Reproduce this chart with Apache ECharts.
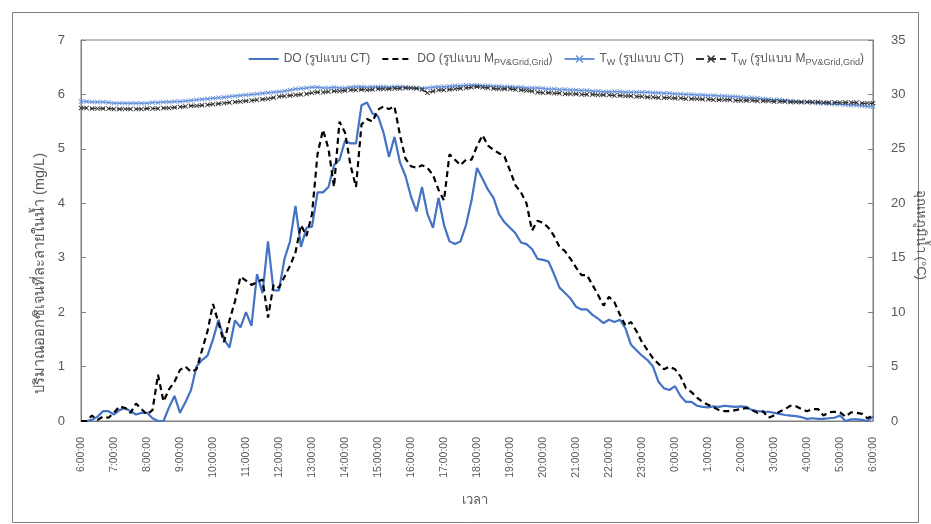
<!DOCTYPE html>
<html>
<head>
<meta charset="utf-8">
<script src="https://cdn.jsdelivr.net/npm/echarts@6/dist/echarts.min.js"></script>
<style>
html,body{margin:0;padding:0;background:#fff;}
#c{width:931px;height:524px;}
</style>
</head>
<body>
<div id="c"></div>
<script>
// time categories every 10 minutes, 6:00:00 -> 6:00:00 next day
const hours = [6,7,8,9,10,11,12,13,14,15,16,17,18,19,20,21,22,23,0,1,2,3,4,5];
const minutes = ['00','10','20','30','40','50'];
const categories = [];
hours.forEach(h => minutes.forEach(m => categories.push(h + ':' + m + ':00')));
categories.push('6:00:00');

const seriesNames = ['DO (รูปแบบ CT)', 'DO (รูปแบบ MPV&Grid,Grid)', 'TW (รูปแบบ CT)', 'TW (รูปแบบ MPV&Grid,Grid)'];

const doCT = [
0,0,0.02,0.08,0.18,0.18,0.12,0.2,0.24,0.18,0.12,0.15,0.15,
0.05,0,0,0.25,0.46,0.15,0.35,0.57,1.0,1.12,1.2,1.5,
1.86,1.5,1.35,1.85,1.72,2.0,1.75,2.7,2.35,3.3,2.4,2.4,
2.98,3.3,3.95,3.2,3.55,3.57,4.2,4.2,4.3,4.7,4.8,5.15,
5.1,5.1,5.8,5.85,5.65,5.6,5.3,4.85,5.22,4.75,4.5,4.12,
3.85,4.3,3.8,3.55,4.1,3.6,3.3,3.25,3.3,3.6,4.05,4.65,
4.45,4.25,4.1,3.8,3.65,3.55,3.45,3.28,3.25,3.16,2.98,2.96,
2.93,2.7,2.45,2.35,2.25,2.1,2.05,2.05,1.95,1.88,1.8,1.86,
1.82,1.86,1.7,1.4,1.3,1.2,1.12,1.0,0.72,0.6,0.57,0.64,
0.46,0.35,0.35,0.28,0.26,0.25,0.27,0.26,0.28,0.27,0.26,0.27,
0.26,0.2,0.18,0.17,0.17,0.15,0.13,0.11,0.1,0.09,0.07,0.04,
0.05,0.04,0.04,0.05,0.06,0.1,0,0.03,0.03,0.02,0,0.08
];

const doMpv = [
0,0,0.1,0.02,0.08,0.06,0.15,0.27,0.24,0.15,0.32,0.22,0.12,
0.2,0.85,0.36,0.58,0.72,0.94,1.0,0.9,0.95,1.3,1.65,2.15,
1.8,1.45,1.85,2.2,2.65,2.58,2.5,2.55,2.6,1.9,2.5,2.45,
2.65,2.85,3.1,3.6,3.4,3.8,4.9,5.35,5.0,4.3,5.5,5.3,
4.7,4.3,5.45,5.55,5.5,5.72,5.78,5.73,5.78,5.25,4.82,4.68,
4.65,4.7,4.65,4.52,4.25,4.05,4.9,4.8,4.7,4.8,4.8,5.05,
5.25,5.06,4.98,4.92,4.86,4.6,4.33,4.2,4.0,3.5,3.68,3.64,
3.55,3.4,3.2,3.12,2.98,2.82,2.68,2.68,2.5,2.32,2.12,2.28,
2.18,1.95,1.75,1.82,1.65,1.45,1.3,1.15,1.05,0.95,1.0,0.95,
0.82,0.6,0.53,0.43,0.35,0.3,0.25,0.2,0.18,0.18,0.2,0.22,
0.24,0.2,0.15,0.18,0.06,0.1,0.17,0.22,0.28,0.27,0.22,0.18,
0.22,0.22,0.1,0.16,0.17,0.16,0.08,0.16,0.15,0.13,0.05,0.1
];

const twCT = [
29.35,29.35,29.3,29.3,29.3,29.25,29.2,29.2,29.2,29.2,29.2,29.2,29.2,
29.25,29.25,29.3,29.3,29.35,29.35,29.4,29.45,29.5,29.55,29.6,29.65,
29.7,29.75,29.8,29.85,29.9,29.95,30.0,30.05,30.1,30.15,30.2,30.25,
30.3,30.4,30.5,30.55,30.6,30.65,30.65,30.6,30.6,30.65,30.6,30.6,
30.65,30.7,30.7,30.65,30.7,30.7,30.7,30.65,30.7,30.7,30.65,30.6,
30.6,30.55,30.6,30.65,30.7,30.7,30.75,30.8,30.8,30.85,30.85,30.85,
30.8,30.8,30.75,30.75,30.7,30.7,30.65,30.65,30.6,30.6,30.6,30.55,
30.5,30.5,30.45,30.45,30.4,30.4,30.35,30.35,30.3,30.3,30.25,30.25,
30.25,30.25,30.2,30.2,30.2,30.2,30.2,30.15,30.15,30.1,30.1,30.05,
30.05,30.0,30.0,29.95,29.95,29.9,29.9,29.85,29.85,29.8,29.8,29.75,
29.7,29.7,29.65,29.6,29.55,29.5,29.5,29.45,29.4,29.35,29.3,29.3,
29.25,29.2,29.2,29.15,29.1,29.1,29.05,29.0,29.0,28.95,28.9,28.9
];

const twMpv = [
28.75,28.75,28.7,28.7,28.7,28.7,28.65,28.65,28.65,28.65,28.65,28.65,28.7,
28.7,28.7,28.75,28.75,28.8,28.85,28.9,28.95,28.95,29.0,29.05,29.1,
29.15,29.2,29.25,29.3,29.35,29.4,29.45,29.5,29.55,29.6,29.7,29.8,
29.85,29.9,29.95,30.0,30.05,30.15,30.2,30.2,30.25,30.3,30.3,30.35,
30.4,30.4,30.45,30.4,30.45,30.5,30.5,30.5,30.55,30.55,30.6,30.6,
30.55,30.45,30.15,30.3,30.4,30.4,30.45,30.5,30.55,30.6,30.65,30.7,
30.65,30.6,30.55,30.5,30.5,30.5,30.45,30.4,30.35,30.3,30.2,30.15,
30.15,30.1,30.1,30.05,30.05,30.05,30.0,30.0,30.0,29.95,29.95,29.95,
29.9,29.9,29.85,29.85,29.8,29.8,29.75,29.75,29.7,29.7,29.7,29.65,
29.65,29.6,29.6,29.6,29.55,29.55,29.5,29.5,29.5,29.5,29.45,29.45,
29.45,29.45,29.4,29.4,29.4,29.35,29.35,29.35,29.3,29.3,29.3,29.3,
29.3,29.3,29.25,29.25,29.25,29.25,29.25,29.25,29.25,29.2,29.2,29.2
];

const leftTicks = {min: 0, max: 7, interval: 1};
const rightTicks = {min: 0, max: 35, interval: 5};

const FONT = '"Liberation Sans", "Noto Sans", "DejaVu Sans", sans-serif';
const GREY = '#595959';
const BLUE = '#4472C4';
const TBLUE = '#6a95dc';
const XSYM = 'path://M0,1L1,0L4,3L7,0L8,1L5,4L8,7L7,8L4,5L1,8L0,7L3,4Z';

const legendRich = {
  t: {fontSize: 12, color: GREY, fontFamily: FONT},
  s: {fontSize: 9, color: GREY, fontFamily: FONT, padding: [7, 0, 0, 0]}
};
function legendFmt(name) {
  if (name === seriesNames[0]) return '{t|DO (รูปแบบ CT)}';
  if (name === seriesNames[1]) return '{t|DO (รูปแบบ M}{s|PV&Grid,Grid}{t|)}';
  if (name === seriesNames[2]) return '{t|T}{s|W}{t| (รูปแบบ CT)}';
  return '{t|T}{s|W}{t| (รูปแบบ M}{s|PV&Grid,Grid}{t|)}';
}

const chart = echarts.init(document.getElementById('c'), null, {renderer: 'canvas'});
chart.setOption({
  animation: false,
  backgroundColor: '#fff',
  textStyle: {fontFamily: FONT},
  grid: {left: 81, right: 58, top: 40, bottom: 103, show: true, borderColor: '#7f7f7f', borderWidth: 1},
  legend: {
    right: 62, top: 48, itemWidth: 30, itemHeight: 10, itemGap: 11,
    formatter: legendFmt,
    textStyle: {rich: legendRich, color: GREY, fontSize: 12},
    data: [
      {name: seriesNames[0], itemStyle: {opacity: 0}},
      {name: seriesNames[1], itemStyle: {opacity: 0}},
      {name: seriesNames[2]},
      {name: seriesNames[3]}
    ]
  },
  graphic: [
    {type: 'rect', left: 10, top: 10, shape: {width: 906, height: 510}, style: {fill: 'none', stroke: '#7f7f7f', lineWidth: 1}, silent: true},
    {type: 'text', left: 32, top: 153, rotation: Math.PI / 2, style: {text: 'ปริมาณออกซิเจนที่ละลายในน้ำ (mg/L)', fill: GREY, font: '14.5px ' + FONT}, silent: true},
    {type: 'text', left: 914, top: 190, rotation: -Math.PI / 2, style: {text: 'อุณหภูมิน้ำ (°C)', fill: GREY, font: '13px ' + FONT}, silent: true},
    {type: 'text', left: 462, top: 494, style: {text: 'เวลา', fill: GREY, font: '13px ' + FONT}, silent: true}
  ],
  xAxis: {
    type: 'category', data: categories, boundaryGap: false,
    axisLine: {lineStyle: {color: '#7f7f7f', width: 1}},
    axisTick: {show: false},
    axisLabel: {
      interval: (i) => i % 6 === 0, rotate: 90, color: GREY, fontSize: 10.5, margin: 16, fontFamily: FONT
    }
  },
  yAxis: [
    {
      type: 'value', min: leftTicks.min, max: leftTicks.max, interval: leftTicks.interval, position: 'left',
      axisLine: {show: true, lineStyle: {color: '#7f7f7f'}},
      axisTick: {show: true, inside: true, length: 5, lineStyle: {color: '#7f7f7f'}},
      axisLabel: {color: GREY, fontSize: 13, margin: 16, fontFamily: FONT},
      splitLine: {show: false}
    },
    {
      type: 'value', min: rightTicks.min, max: rightTicks.max, interval: rightTicks.interval, position: 'right',
      axisLine: {show: true, lineStyle: {color: '#7f7f7f'}},
      axisTick: {show: true, inside: true, length: 5, lineStyle: {color: '#7f7f7f'}},
      axisLabel: {color: GREY, fontSize: 13, margin: 18, fontFamily: FONT},
      splitLine: {show: false}
    }
  ],
  series: [
    {
      name: seriesNames[2], type: 'line', yAxisIndex: 1, data: twCT,
      symbol: XSYM, symbolSize: 5, showSymbol: true, showAllSymbol: true,
      lineStyle: {color: TBLUE, width: 1.5}, itemStyle: {color: TBLUE}, z: 2
    },
    {
      name: seriesNames[3], type: 'line', yAxisIndex: 1, data: twMpv,
      symbol: XSYM, symbolSize: 5, showSymbol: true, showAllSymbol: true,
      lineStyle: {color: '#333', width: 1.5, type: 'dashed'}, itemStyle: {color: '#333'}, z: 3
    },
    {
      name: seriesNames[0], type: 'line', yAxisIndex: 0, data: doCT,
      symbol: 'none', lineStyle: {color: BLUE, width: 2.2}, itemStyle: {color: BLUE}, z: 4
    },
    {
      name: seriesNames[1], type: 'line', yAxisIndex: 0, data: doMpv,
      symbol: 'none', lineStyle: {color: '#000', width: 2.2, type: [6, 4]}, itemStyle: {color: '#000'}, z: 5
    }
  ]
});
</script>
</body>
</html>
